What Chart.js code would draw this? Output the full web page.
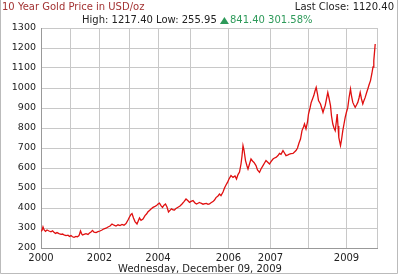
<!DOCTYPE html>
<html>
<head>
<meta charset="utf-8">
<script src="https://cdn.jsdelivr.net/npm/chart.js@4/dist/chart.umd.min.js"></script>
<style>
  html, body { margin: 0; padding: 0; background: #fff; }
  #goldChart { display: block; }
</style>
</head>
<body>
<canvas id="goldChart" width="400" height="276"></canvas>
<script>
// positions along the (uneven) time axis - 10 per row
const samplePos = [
  0, 1, 2, 3, 4.5, 6, 8, 10, 11.5, 13,
  14.5, 16, 18, 20, 21.5, 23, 25, 27, 28.5, 30,
  31.5, 33, 35, 36.5, 38, 39.5, 40.5, 41.5, 43, 45,
  47, 48.5, 50, 51.5, 53, 55, 57, 59, 61, 63,
  65, 67, 69, 71, 73, 75, 77, 79, 81, 83,
  85, 87, 88.5, 90, 91, 92.5, 94, 96, 98.5, 100,
  102, 104, 105.5, 107, 108.5, 110, 112, 114, 115.5, 117,
  118.5, 120, 121.5, 123, 124.5, 126, 127.5, 129, 130.5, 132,
  133.5, 135, 137, 139, 141, 143, 145, 147, 148.5, 150,
  152, 154, 155.5, 157, 158.5, 160, 162, 164, 165.5, 167,
  168.5, 170, 172, 173.5, 175, 177, 178.5, 180, 182, 183.5,
  185, 186.5, 188, 190, 192, 194, 195.5, 197, 198.5, 200,
  201, 202, 203, 204.5, 206, 207, 208.5, 210, 211.5, 213,
  215, 216.5, 218.5, 220, 222, 223.5, 225, 226.5, 228.5, 230,
  232, 233.5, 235, 237, 238.5, 240, 242, 243.5, 245, 247,
  248.5, 250, 252, 253.5, 255, 256.5, 258, 259.5, 261, 262.5,
  263.5, 265, 266.5, 267.5, 269, 270.2, 271.5, 272.8, 274, 275.2,
  276.5, 277.5, 279.5, 281, 282, 283, 284.2, 285.5, 286.8, 288,
  289.5, 290.5, 291.8, 293, 294.2, 295.3, 296.2, 297, 297.8, 299.5,
  300.5, 301.8, 303, 304.2, 305.5, 306.8, 308, 309.5, 310.5, 311.8,
  313, 314.2, 315.5, 316.8, 318, 319.2, 320.5, 321.8, 323, 324.2,
  325.5, 326.8, 328, 329.5, 330.8, 332, 332.8, 334.2
];
const goldPrice = [
  283, 288, 306, 292, 283, 290, 285, 281, 286, 279,
  273, 277, 272, 268, 270, 266, 262, 264, 258, 262,
  256, 253, 258, 256, 262, 285, 272, 265, 268, 272,
  268, 275, 280, 288, 279, 277, 282, 285, 290, 296,
  299, 305, 310, 320, 314, 310, 316, 312, 318, 314,
  322, 340, 355, 368, 372, 350, 332, 320, 350, 338,
  345, 362, 370, 381, 388, 395, 403, 408, 412, 420,
  424, 412, 403, 414, 420, 405, 380, 388, 396, 391,
  390, 398, 404, 410, 420, 432, 445, 436, 428, 433,
  437, 425, 420, 424, 428, 424, 419, 422, 423, 418,
  420, 426, 432, 440, 452, 460, 470, 462, 480, 500,
  515, 528, 545, 562, 553, 560, 545, 567, 580, 620,
  660, 712, 690, 637, 610, 595, 620, 645, 635, 628,
  612, 590, 578, 595, 612, 625, 637, 630, 620, 632,
  645, 650, 653, 662, 673, 668, 687, 675, 662, 666,
  670, 672, 673, 680, 687, 700, 725, 745, 787, 805,
  820, 795, 830, 870, 900, 928, 945, 962, 985, 1003,
  970, 937, 920, 895, 878, 895, 912, 945, 978, 950,
  912, 860, 820, 800, 787, 830, 870, 810, 753, 712,
  740, 787, 820, 853, 880, 903, 950, 995, 960, 928,
  915, 903, 915, 928, 950, 978, 945, 920, 938, 953,
  975, 995, 1015, 1037, 1070, 1105, 1137, 1220
];
// vertical grid / year ticks on the same axis
const yearTickPos = [0, 29, 58.5, 88, 117, 149.5, 187.5, 229.5, 267.5, 305.5, 336];
const yearTickLabels = ["2000", "", "2002", "", "2004", "", "2006", "2007", "", "2009", ""];
const priceTicks = [200, 300, 400, 500, 600, 700, 800, 900, 1000, 1100, 1200, 1300];

const chartTitle = "10 Year Gold Price in USD/oz";
const lastClose = "Last Close: 1120.40";
const highLow = "High: 1217.40 Low: 255.95 ";
const change = "841.40 301.58%";
const dateLine = "Wednesday, December 09, 2009";

const FONT = "DejaVu Sans";

const textPlugin = {
  id: "texts",
  beforeDraw(chart) {
    const ctx = chart.ctx;
    ctx.save();
    ctx.fillStyle = "#fff";
    ctx.fillRect(0, 0, chart.width, chart.height);
    ctx.restore();
  },
  afterDraw(chart) {
    const ctx = chart.ctx;
    ctx.save();
    ctx.textBaseline = "middle";

    ctx.font = "10px '" + FONT + "'";
    ctx.fillStyle = "#a33333";
    ctx.textAlign = "left";
    ctx.fillText(chartTitle, 2, 7.5);

    ctx.fillStyle = "#222";
    ctx.textAlign = "right";
    ctx.fillText(lastClose, 394, 7.5);

    // second header line
    ctx.textAlign = "left";
    let x = 82;
    ctx.fillStyle = "#222";
    ctx.fillText(highLow, x, 20.5);
    x += ctx.measureText(highLow).width;
    ctx.fillStyle = "#2e9a5a";
    ctx.beginPath();
    ctx.moveTo(x, 24);
    ctx.lineTo(x + 9, 24);
    ctx.lineTo(x + 4.5, 17);
    ctx.closePath();
    ctx.fill();
    x += 10;
    ctx.fillText(change, x, 20.5);

    ctx.fillStyle = "#222";
    ctx.textAlign = "center";
    ctx.fillText(dateLine, 200, 269.5);

    // outer frame
    ctx.strokeStyle = "#bbb";
    ctx.lineWidth = 1;
    ctx.beginPath();
    ctx.moveTo(0.5, 0);
    ctx.lineTo(0.5, 273.5);
    ctx.lineTo(397.5, 273.5);
    ctx.lineTo(397.5, 0);
    ctx.stroke();
    ctx.restore();
  }
};

new Chart(document.getElementById("goldChart"), {
  type: "line",
  data: {
    datasets: [{
      data: samplePos.map((p, i) => ({ x: p, y: goldPrice[i] })),
      borderColor: "#e01010",
      borderWidth: 1.3,
      pointRadius: 0,
      tension: 0,
      fill: false
    }]
  },
  options: {
    responsive: false,
    animation: false,
    devicePixelRatio: 1,
    layout: { padding: { top: 28, right: 23, bottom: 0, left: 0 } },
    plugins: { legend: { display: false }, tooltip: { enabled: false } },
    scales: {
      x: {
        type: "linear",
        min: 0,
        max: 336,
        afterBuildTicks: scale => { scale.ticks = yearTickPos.map(v => ({ value: v })); },
        afterFit: scale => { scale.height = 28; },
        grid: { color: "#c8c8c8", drawTicks: false },
        border: { color: "#999" },
        ticks: {
          autoSkip: false,
          maxRotation: 0,
          padding: 4,
          color: "#222",
          font: { family: FONT, size: 10 },
          callback: (v, i) => yearTickLabels[i]
        }
      },
      y: {
        min: 200,
        max: 1300,
        afterBuildTicks: scale => { scale.ticks = priceTicks.map(v => ({ value: v })); },
        afterFit: scale => { scale.width = 41; },
        grid: { color: "#c8c8c8", drawTicks: false },
        border: { color: "#999" },
        ticks: {
          padding: 5,
          color: "#222",
          font: { family: FONT, size: 9.5 },
          callback: v => String(v)
        }
      }
    }
  },
  plugins: [textPlugin]
});
</script>
</body>
</html>
